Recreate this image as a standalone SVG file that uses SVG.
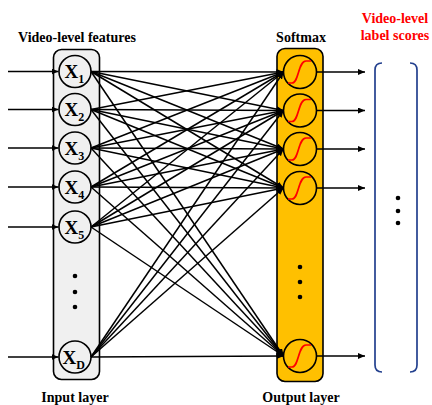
<svg xmlns="http://www.w3.org/2000/svg" width="432" height="405" viewBox="0 0 432 405">
<style>
.t{font-family:"Liberation Serif","Times New Roman",serif;font-weight:bold;font-size:14px;text-anchor:middle;fill:#000}
.r{fill:#ff0000}
.x{font-family:"Liberation Serif","Times New Roman",serif;font-weight:bold;font-size:19px;fill:#000}
.s{font-size:12px}
.ln{stroke:#000;stroke-width:1.5;fill:none;marker-end:url(#ah)}
.ic{fill:#f0f0f0;stroke:#000;stroke-width:1.6}
.oc{fill:none;stroke:#000;stroke-width:1.6}
.sg{fill:none;stroke:#ff0000;stroke-width:1.7}
.br{fill:none;stroke:#23408e;stroke-width:1.7}
</style>
<defs>
<marker id="ah" viewBox="0 0 7 6" refX="7" refY="3" markerWidth="7" markerHeight="6" markerUnits="userSpaceOnUse" orient="auto"><path d="M0,0 L7,3 L0,6 z" fill="#000"/></marker>
</defs>
<rect x="0" y="0" width="432" height="405" fill="#fff"/>
<text class="t" x="77" y="42">Video-level features</text>
<text class="t" x="301" y="42">Softmax</text>
<text class="t r" x="395" y="23">Video-level</text>
<text class="t r" x="395" y="40">label scores</text>
<text class="t" x="75" y="402">Input layer</text>
<text class="t" x="301" y="402">Output layer</text>

<g id="input-layer">
<rect x="53.5" y="49.5" width="46" height="330" rx="8" class="ic"/>
<circle cx="75" cy="276" r="2.3" fill="#000"/>
<circle cx="75" cy="292" r="2.3" fill="#000"/>
<circle cx="75" cy="307" r="2.3" fill="#000"/>
</g>
<g id="x1"><circle cx="75" cy="71.5" r="16" class="ic"/><text class="x" x="64.5" y="78">X<tspan class="s" dy="5">1</tspan></text></g>
<g id="x2"><circle cx="75" cy="109.5" r="16" class="ic"/><text class="x" x="64.5" y="116">X<tspan class="s" dy="5">2</tspan></text></g>
<g id="x3"><circle cx="75" cy="148" r="16" class="ic"/><text class="x" x="64.5" y="154.5">X<tspan class="s" dy="5">3</tspan></text></g>
<g id="x4"><circle cx="75" cy="187" r="16" class="ic"/><text class="x" x="64.5" y="193.5">X<tspan class="s" dy="5">4</tspan></text></g>
<g id="x5"><circle cx="75" cy="227" r="16" class="ic"/><text class="x" x="64.5" y="233.5">X<tspan class="s" dy="5">5</tspan></text></g>
<g id="xD"><circle cx="75" cy="357" r="16" class="ic"/><text class="x" x="62.5" y="363.5">X<tspan class="s" dy="5">D</tspan></text></g>

<g id="output-layer">
<rect x="277" y="48.5" width="46" height="333" rx="8" fill="#ffc000" stroke="#000" stroke-width="1.6"/>
<circle cx="300" cy="267" r="2.3" fill="#000"/>
<circle cx="300" cy="282" r="2.3" fill="#000"/>
<circle cx="300" cy="297" r="2.3" fill="#000"/>
</g>
<g id="o1"><circle cx="300" cy="72" r="16.5" class="oc"/><path class="sg" transform="translate(300,72)" d="M-12,11 L-8,11 C-1,11 -2,-11 6,-11 L11,-11"/></g>
<g id="o2"><circle cx="300" cy="110.5" r="16.5" class="oc"/><path class="sg" transform="translate(300,110.5)" d="M-12,11 L-8,11 C-1,11 -2,-11 6,-11 L11,-11"/></g>
<g id="o3"><circle cx="300" cy="149" r="16.5" class="oc"/><path class="sg" transform="translate(300,149)" d="M-12,11 L-8,11 C-1,11 -2,-11 6,-11 L11,-11"/></g>
<g id="o4"><circle cx="300" cy="188" r="16.5" class="oc"/><path class="sg" transform="translate(300,188)" d="M-12,11 L-8,11 C-1,11 -2,-11 6,-11 L11,-11"/></g>
<g id="oN"><circle cx="300" cy="356" r="16.5" class="oc"/><path class="sg" transform="translate(300,356)" d="M-12,11 L-8,11 C-1,11 -2,-11 6,-11 L11,-11"/></g>

<g id="scores">
<path class="br" d="M382,63 Q375,63 375,70 L375,365 Q375,372 382,372"/>
<path class="br" d="M410,63 Q417,63 417,70 L417,365 Q417,372 410,372"/>
<circle cx="398" cy="198" r="2.3" fill="#000"/>
<circle cx="398" cy="211" r="2.3" fill="#000"/>
<circle cx="398" cy="223" r="2.3" fill="#000"/>
</g>

<g id="connectors">
<line class="ln" x1="8" y1="71.5" x2="58.5" y2="71.5"/>
<line class="ln" x1="8" y1="109.5" x2="58.5" y2="109.5"/>
<line class="ln" x1="8" y1="148" x2="58.5" y2="148"/>
<line class="ln" x1="8" y1="187" x2="58.5" y2="187"/>
<line class="ln" x1="8" y1="227" x2="58.5" y2="227"/>
<line class="ln" x1="8" y1="357" x2="58.5" y2="357"/>

<line class="ln" x1="316.5" y1="72" x2="365" y2="72"/>
<line class="ln" x1="316.5" y1="110.5" x2="365" y2="110.5"/>
<line class="ln" x1="316.5" y1="149" x2="365" y2="149"/>
<line class="ln" x1="316.5" y1="188" x2="365" y2="188"/>
<line class="ln" x1="316.5" y1="356" x2="365" y2="356"/>

<line class="ln" x1="91" y1="71.5" x2="283.5" y2="72"/>
<line class="ln" x1="91" y1="71.5" x2="283.5" y2="110.5"/>
<line class="ln" x1="91" y1="71.5" x2="283.5" y2="149"/>
<line class="ln" x1="91" y1="71.5" x2="283.5" y2="188"/>
<line class="ln" x1="91" y1="71.5" x2="283.5" y2="356"/>

<line class="ln" x1="91" y1="109.5" x2="283.5" y2="72"/>
<line class="ln" x1="91" y1="109.5" x2="283.5" y2="110.5"/>
<line class="ln" x1="91" y1="109.5" x2="283.5" y2="149"/>
<line class="ln" x1="91" y1="109.5" x2="283.5" y2="188"/>
<line class="ln" x1="91" y1="109.5" x2="283.5" y2="356"/>

<line class="ln" x1="91" y1="148" x2="283.5" y2="72"/>
<line class="ln" x1="91" y1="148" x2="283.5" y2="110.5"/>
<line class="ln" x1="91" y1="148" x2="283.5" y2="149"/>
<line class="ln" x1="91" y1="148" x2="283.5" y2="188"/>
<line class="ln" x1="91" y1="148" x2="283.5" y2="356"/>

<line class="ln" x1="91" y1="187" x2="283.5" y2="72"/>
<line class="ln" x1="91" y1="187" x2="283.5" y2="110.5"/>
<line class="ln" x1="91" y1="187" x2="283.5" y2="149"/>
<line class="ln" x1="91" y1="187" x2="283.5" y2="188"/>
<line class="ln" x1="91" y1="187" x2="283.5" y2="356"/>

<line class="ln" x1="91" y1="227" x2="283.5" y2="72"/>
<line class="ln" x1="91" y1="227" x2="283.5" y2="110.5"/>
<line class="ln" x1="91" y1="227" x2="283.5" y2="149"/>
<line class="ln" x1="91" y1="227" x2="283.5" y2="188"/>
<line class="ln" x1="91" y1="227" x2="283.5" y2="356"/>

<line class="ln" x1="91" y1="357" x2="283.5" y2="72"/>
<line class="ln" x1="91" y1="357" x2="283.5" y2="110.5"/>
<line class="ln" x1="91" y1="357" x2="283.5" y2="149"/>
<line class="ln" x1="91" y1="357" x2="283.5" y2="188"/>
<line class="ln" x1="91" y1="357" x2="283.5" y2="356"/>
</g>
</svg>
